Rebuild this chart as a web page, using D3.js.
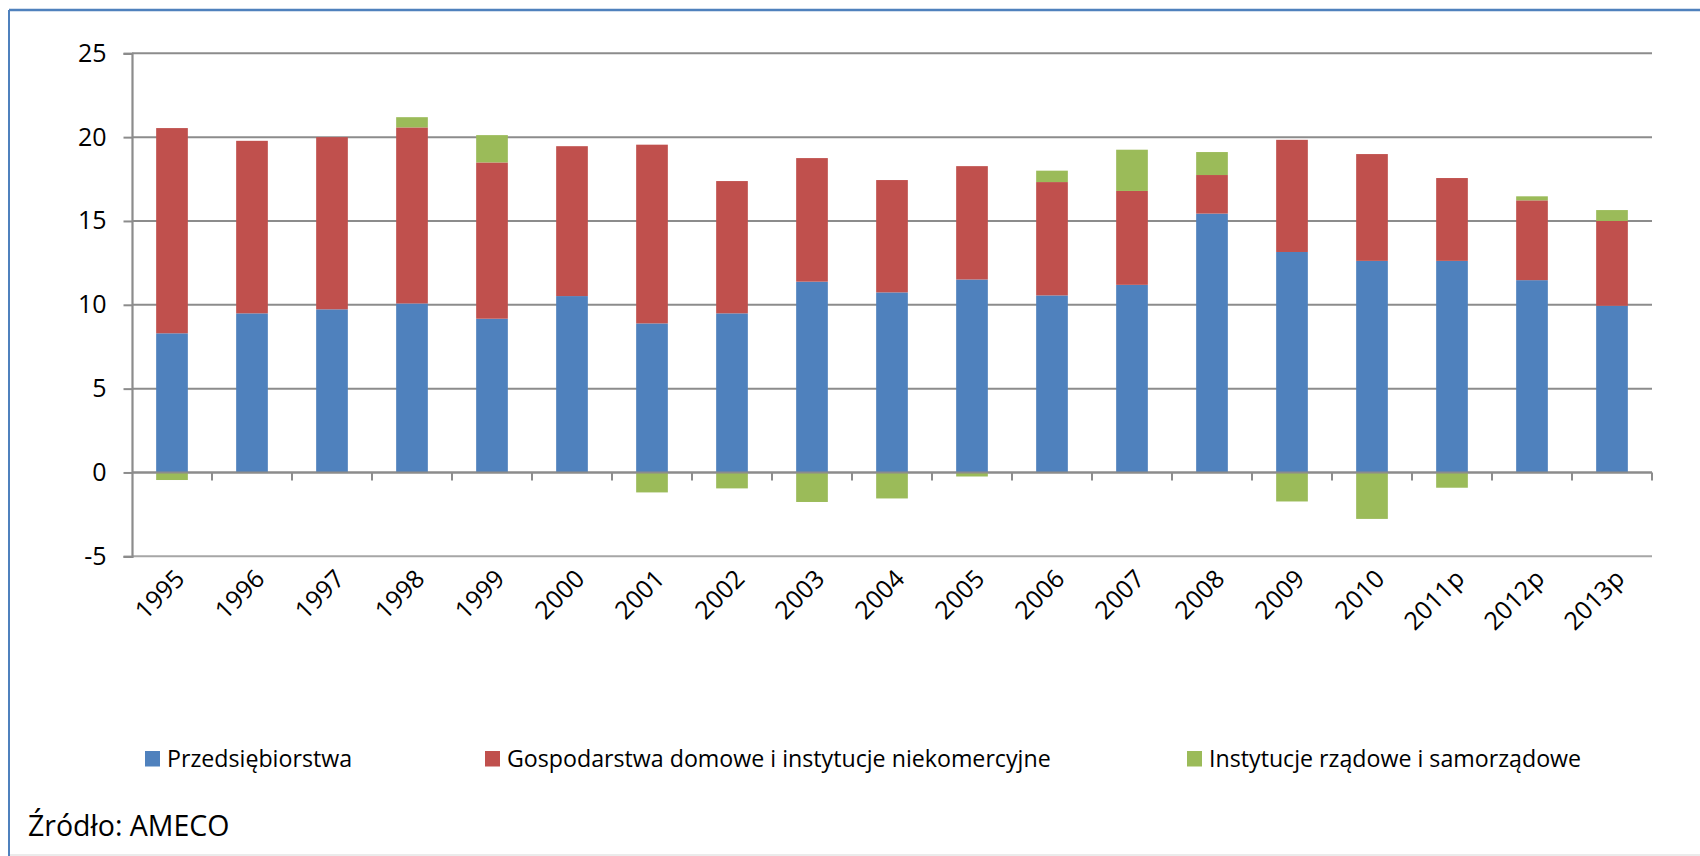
<!DOCTYPE html>
<html>
<head>
<meta charset="utf-8">
<script src="https://cdn.jsdelivr.net/npm/d3@7"></script>
<style>
  body { margin: 0; background: #fff; }
  svg { display: block; font-family: "Open Sans", sans-serif; }
</style>
</head>
<body>
<svg id="chart"></svg>
<script>
(function() {

  // data
  const years = ['1995', '1996', '1997', '1998', '1999', '2000', '2001', '2002', '2003', '2004',
                 '2005', '2006', '2007', '2008', '2009', '2010', '2011p', '2012p', '2013p']
  const przedsiebiorstwa = [8.30, 9.49, 9.73, 10.08, 9.17, 10.52, 8.89, 9.49, 11.38, 10.74,
                            11.51, 10.56, 11.19, 15.44, 13.15, 12.62, 12.62, 11.47, 9.94]
  const gospodarstwa = [12.24, 10.29, 10.27, 10.50, 9.32, 8.94, 10.66, 7.89, 7.37, 6.70,
                        6.76, 6.76, 5.60, 2.30, 6.69, 6.37, 4.94, 4.76, 5.06]
  const instytucje = [-0.45, 0, 0, 0.61, 1.63, 0, -1.19, -0.95, -1.76, -1.55,
                      -0.24, 0.68, 2.46, 1.37, -1.73, -2.77, -0.91, 0.24, 0.65]
  const seriesNames = ['Przedsiębiorstwa', 'Gospodarstwa domowe i instytucje niekomercyjne', 'Instytucje rządowe i samorządowe']
  const yTicks = [-5, 0, 5, 10, 15, 20, 25]
  const sourceText = 'Źródło: AMECO'

  const width = 1700
  const height = 856
  const colors = ['#4F81BD', '#C0504D', '#9BBB59']
  const keys = ['p', 'g', 'i']

  const rows = years.map((yr, i) => ({year: yr, p: przedsiebiorstwa[i], g: gospodarstwa[i], i: instytucje[i]}))

  const svg = d3.select('#chart')
    .attr('width', width)
    .attr('height', height)

  // outer frame
  svg.append('line')
    .attr('x1', 9).attr('x2', 9).attr('y1', 10).attr('y2', height)
    .attr('stroke', '#4F81BD').attr('stroke-width', 2)
  svg.append('line')
    .attr('x1', 9).attr('x2', width).attr('y1', 10).attr('y2', 10)
    .attr('stroke', '#4F81BD').attr('stroke-width', 2.5)
  svg.append('line')
    .attr('x1', 10).attr('x2', width).attr('y1', 855).attr('y2', 855)
    .attr('stroke', '#e4e4e4').attr('stroke-width', 1.5)

  const plotLeft = 132
  const plotRight = 1652
  const plotTop = 53.3
  const plotBottom = 556.3

  const x = d3.scaleBand()
    .domain(years)
    .range([plotLeft, plotRight])
  const barWidth = x.bandwidth() * 0.396

  const y = d3.scaleLinear()
    .domain([-5, 25])
    .range([plotBottom, plotTop])

  // gridlines
  svg.append('g')
    .selectAll('line')
    .data(yTicks)
    .enter()
    .append('line')
    .attr('x1', plotLeft)
    .attr('x2', plotRight)
    .attr('y1', d => y(d))
    .attr('y2', d => y(d))
    .attr('stroke', d => d === -5 ? '#a6a6a6' : '#8c8c8c')
    .attr('stroke-width', 2)

  // bars
  const stack = d3.stack()
    .keys(keys)
    .offset(d3.stackOffsetDiverging)

  const series = stack(rows)

  svg.append('g')
    .selectAll('g')
    .data(series)
    .enter()
    .append('g')
    .attr('fill', (d, i) => colors[i])
    .selectAll('rect')
    .data(d => d)
    .enter()
    .append('rect')
    .attr('x', d => x(d.data.year) + (x.bandwidth() - barWidth) / 2)
    .attr('width', barWidth)
    .attr('y', d => y(Math.max(d[0], d[1])))
    .attr('height', d => Math.abs(y(d[0]) - y(d[1])))

  // y axis
  const yAxis = svg.append('g')
    .attr('transform', `translate(${plotLeft},0)`)
    .call(d3.axisLeft(y).tickValues(yTicks).tickSize(8.5).tickPadding(17).tickFormat(d => String(d)))
  yAxis.select('.domain').attr('stroke', '#8c8c8c').attr('stroke-width', 2.2)
  yAxis.selectAll('.tick line').attr('stroke', '#8c8c8c').attr('stroke-width', 2)
  yAxis.selectAll('.tick text')
    .attr('fill', '#000')
    .style('font-size', '25px')
    .style('font-family', '"Open Sans", sans-serif')

  // x axis on the zero line, ticks between categories
  const boundaries = years.map(yr => x(yr) + x.bandwidth())
  const xAxis = svg.append('g')
  xAxis.append('line')
    .attr('x1', plotLeft).attr('x2', plotRight)
    .attr('y1', y(0)).attr('y2', y(0))
    .attr('stroke', '#8c8c8c').attr('stroke-width', 2)
  xAxis.selectAll('.xtick')
    .data(boundaries)
    .enter()
    .append('line')
    .classed('xtick', true)
    .attr('x1', d => d).attr('x2', d => d)
    .attr('y1', y(0)).attr('y2', y(0) + 8)
    .attr('stroke', '#8c8c8c').attr('stroke-width', 2)

  svg.append('g')
    .selectAll('text')
    .data(years)
    .enter()
    .append('text')
    .attr('transform', d => `translate(${x(d) + x.bandwidth() / 2 + 14},${plotBottom + 24}) rotate(-45)`)
    .attr('text-anchor', 'end')
    .style('font-size', '25px')
    .text(d => d)

  // legend
  const legendX = [145, 485, 1187]
  const legend = svg.append('g')
    .selectAll('g')
    .data(seriesNames)
    .enter()
    .append('g')
    .attr('transform', (d, i) => `translate(${legendX[i]},751)`)
  legend.append('rect')
    .attr('width', 15).attr('height', 15.5)
    .attr('fill', (d, i) => colors[i])
  legend.append('text')
    .attr('x', 22)
    .attr('y', 16)
    .style('font-size', '23.2px')
    .text(d => d)

  // source
  svg.append('text')
    .attr('x', 28)
    .attr('y', 836)
    .style('font-size', '28.5px')
    .text(sourceText)

})()
</script>
</body>
</html>
